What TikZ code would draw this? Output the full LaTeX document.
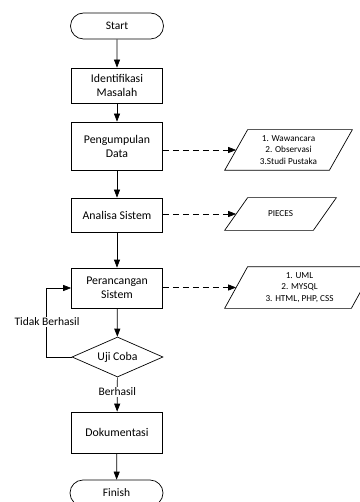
\documentclass[tikz,border=0pt]{standalone}
\usepackage{fontspec}
\setmainfont{Carlito}
\usetikzlibrary{shapes.geometric,shapes.misc,arrows.meta}

\begin{document}
\begin{tikzpicture}[x=1pt,y=-1pt,line width=0.7pt,
  term/.style={draw,rounded rectangle,minimum width=93pt,minimum height=26pt,inner sep=0pt,font=\fontsize{11.5}{13}\selectfont},
  proc/.style={draw,rectangle,minimum width=91pt,align=center,inner sep=0pt,font=\fontsize{11.8}{14}\selectfont},
  dec/.style={draw,diamond,aspect=2.3,minimum width=91pt,minimum height=40pt,inner sep=0pt,font=\fontsize{11.8}{13}\selectfont},
  dataio/.style={rectangle,minimum height=40pt,align=center,inner sep=0pt,font=\fontsize{9.2}{11.5}\selectfont},
  lbl/.style={fill=white,inner sep=1pt,font=\fontsize{11.5}{13}\selectfont},
  arr/.style={-{Triangle[length=8pt,width=6pt]}},
  darr/.style={arr,dash pattern=on 6pt off 4pt}]
\useasboundingbox (0,0) rectangle (359,502);

% Main flow
\node[term] (start) at (117,26) {Start};
\node[proc,minimum height=35pt] (ident) at (117,85.5) {Identifikasi\\Masalah};
\node[proc,minimum height=48pt] (peng) at (117,146) {Pengumpulan\\Data};
\node[proc,minimum height=34pt] (anal) at (117,215) {Analisa Sistem};
\node[proc,minimum height=40pt] (peran) at (117,288) {Perancangan\\Sistem};
\node[dec] (uji) at (117.5,357) {Uji Coba};
\node[proc,minimum height=41pt] (doku) at (117,432.5) {Dokumentasi};
\node[term] (finish) at (116.5,493) {Finish};

\draw[arr] (start) -- (ident);
\draw[arr] (ident) -- (peng);
\draw[arr] (peng) -- (anal);
\draw[arr] (anal) -- (peran);
\draw[arr] (peran) -- (uji);
\draw[arr] (uji) -- (doku) node[lbl,pos=0.42] (berhasil) {Berhasil};
\draw[arr] (doku) -- (finish);

% Loop back
\draw[arr] (uji.west) -| ([xshift=-25pt]peran.west) -- (peran.west);
\node[lbl] (tidak) at (47,322) {Tidak Berhasil};

% Data
\node[dataio,minimum width=104pt] (data1) at (288.5,150) {1. Wawancara\\2. Observasi\\3.Studi Pustaka};
\node[dataio,minimum width=88pt,minimum height=32pt] (data2) at (280.5,214) {PIECES};
\node[dataio,minimum width=126pt,minimum height=41pt] (data3) at (299.5,287.5) {1. UML\\2. MYSQL\\3. HTML, PHP, CSS};
\foreach \n in {data1,data2,data3}
  \draw ([xshift=11.5pt]\n.north west) -- ([xshift=11.5pt]\n.north east)
    -- ([xshift=-11.5pt]\n.south east) -- ([xshift=-11.5pt]\n.south west) -- cycle;

\draw[darr] (peng.east |- data1.west) -- (data1.west);
\draw[darr] (anal.east |- data2.west) -- (data2.west);
\draw[darr] (peran.east |- data3.west) -- (data3.west);
\end{tikzpicture}
\end{document}
